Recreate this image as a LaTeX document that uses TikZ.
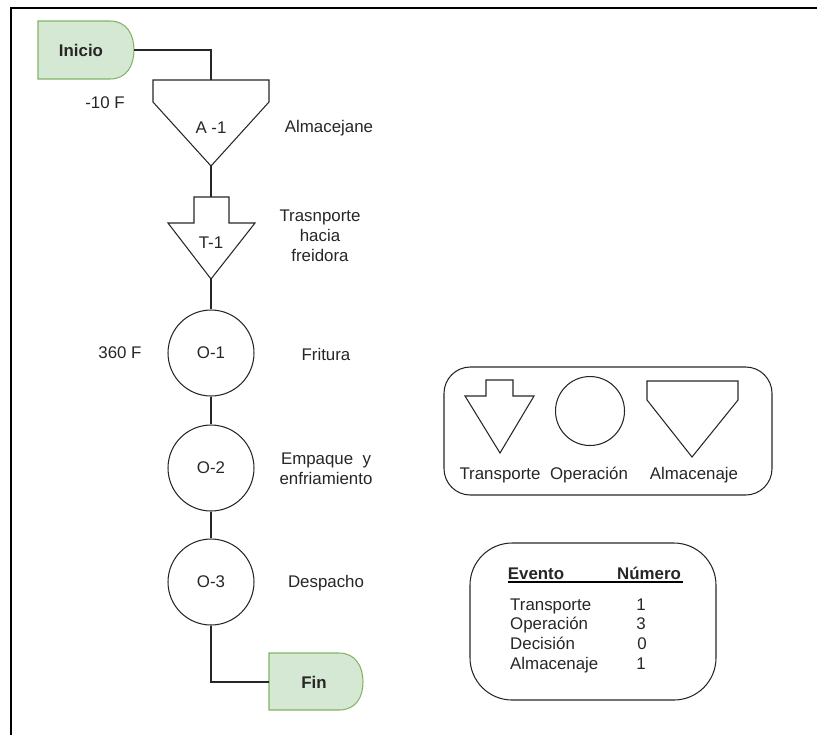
\documentclass[tikz,border=0pt]{standalone}
\usepackage{fontspec}
\setmainfont{Liberation Sans}
\usepackage{tikz}
\usepackage{xcolor}
\usetikzlibrary{calc,positioning}
\definecolor{termfill}{HTML}{D5E8D4}
\definecolor{termline}{HTML}{82B366}
\newcommand{\lbl}{\fontsize{9.6}{11.5}\selectfont}
\tikzset{
    symb/.style={draw=black!85, line width=0.6pt},
    term/.style={draw=termline, fill=termfill, line width=0.6pt},
    opcircle/.style={circle, symb, minimum size=1.72cm, inner sep=0pt},
    link/.style={draw=black!85, line width=0.6pt},
    frame/.style={draw=black, line width=1.2pt}
}
\begin{document}
\begin{tikzpicture}[x=0.02cm, y=-0.02cm, every node/.style={font=\lbl, text=black!85}]
                    \useasboundingbox (0,0) rectangle (817,735);
                    \draw[frame] (817,8) -- (11,8) -- (11,735);
                    % terminals
                    \draw[term] (38,21) -- (110,21) .. controls (127,21) and (134,35) .. (134,50)
                        .. controls (134,65) and (127,79) .. (110,79) -- (38,79) -- cycle;
                    \node[font=\lbl\bfseries] (inicio) at (81,50) {Inicio};
                    \coordinate (inicio-e) at (134,50);
                    \draw[term] (269,653) -- (339,653) .. controls (356,653) and (363,667) .. (363,682)
                        .. controls (363,697) and (356,710) .. (339,710) -- (269,710) -- cycle;
                    \node[font=\lbl\bfseries] (fin) at (314,682) {Fin};
                    \coordinate (fin-w) at (269,682);
                    % almacenaje A-1
                    \draw[symb] (153,80) -- (269,80) -- (269,102) -- (211,166) -- (153,102) -- cycle;
                    \node (a1) at (211,128) {A -1};
                    \coordinate (a1-n) at (211,80);
                    \coordinate (a1-s) at (211,166);
                    \node (a1temp) at (105,103) {-10 F};
                    \node (a1txt) at (329,128) {Almacejane};
                    % transporte T-1
                    \draw[symb] (194,197) -- (229,197) -- (229,223) -- (255,223) -- (211,279) -- (168,223) -- (194,223) -- cycle;
                    \node (t1) at (211,243) {T-1};
                    \coordinate (t1-n) at (211,197);
                    \coordinate (t1-s) at (211,279);
                    \node[align=center] (t1txt) at (320,236) {Trasnporte\\hacia\\freidora};
                    % operaciones
                    \node[opcircle] (o1) at (211,353) {O-1};
                    \node[opcircle] (o2) at (211,468) {O-2};
                    \node[opcircle] (o3) at (211,582) {O-3};
                    \node (o1temp) at (120,353) {360 F};
                    \node (o1txt) at (326,354) {Fritura};
                    \node[align=center] (o2txt) at (326,469) {Empaque\ \ y\\enfriamiento};
                    \node (o3txt) at (326,583) {Despacho};
                    % conectores
                    \draw[link] (inicio-e) -| (a1-n);
                    \draw[link] (a1-s) -- (t1-n);
                    \draw[link] (t1-s) -- (o1);
                    \draw[link] (o1) -- (o2);
                    \draw[link] (o2) -- (o3);
                    \draw[link] (o3) |- (fin-w);
                    % simbologia
                    \draw[symb, rounded corners=15] (444,367) rectangle (772,495);
                    \draw[symb] (486,380) -- (513,380) -- (513,396) -- (534,396) -- (500,453) -- (465,396) -- (486,396) -- cycle;
                    \node[opcircle, minimum size=1.38cm] (legop) at (590,411) {};
                    \draw[symb] (647,381) -- (738,381) -- (738,400) -- (692,457) -- (647,400) -- cycle;
                    \node (legt) at (500,475) {Transporte};
                    \node (lego) at (589,475) {Operación};
                    \node (lega) at (694,475) {Almacenaje};
                    % resumen
                    \draw[symb, rounded corners=24] (470,543) rectangle (716,700);
                    \node[font=\lbl\bfseries, anchor=base] (evento) at (536,579) {Evento};
                    \node[font=\lbl\bfseries, anchor=base] (numero) at (649,579) {Número};
                    \draw[line width=0.7pt] (508,582) -- (683,582);
                    \node[anchor=base west] (ev1) at (504,610) {Transporte};
                    \node[anchor=base west] (ev2) at (504,629) {Operación};
                    \node[anchor=base west] (ev3) at (504,649) {Decisión};
                    \node[anchor=base west] (ev4) at (504,669) {Almacenaje};
                    \node[anchor=base] (n1) at (641,610) {1};
                    \node[anchor=base] (n2) at (641,629) {3};
                    \node[anchor=base] (n3) at (642,649) {0};
                    \node[anchor=base] (n4) at (641,669) {1};
                \end{tikzpicture}
\end{document}
